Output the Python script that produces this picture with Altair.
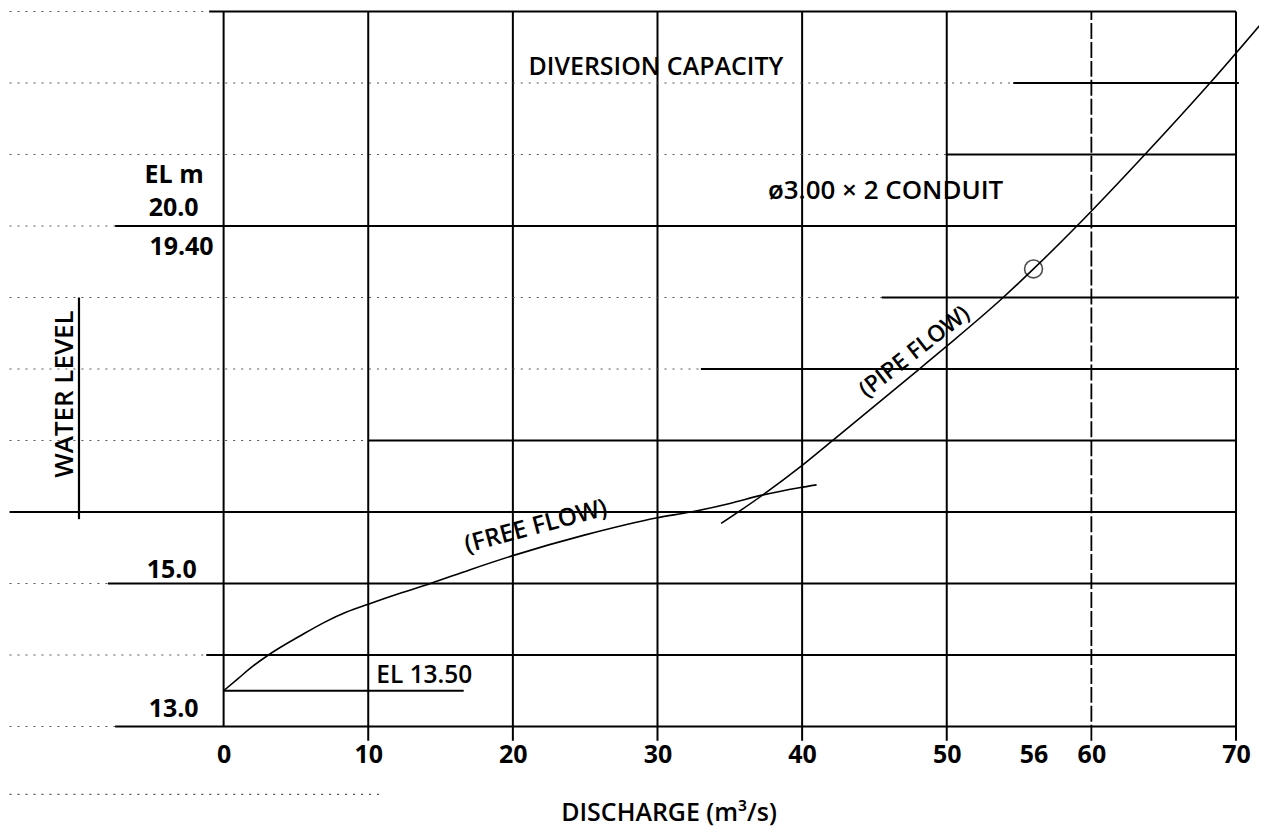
import altair as alt
import pandas as pd

# ---------------- data ----------------
# rating curve, free-flow branch (discharge m3/s, water level EL m)
free_q = [0, 1.0, 2.0, 3.1, 5.4, 7.0, 8.5, 10, 12.3, 14.3, 17.0, 20, 25, 30, 32.3, 35, 37.3, 39.8, 41.0]
free_h = [13.5, 13.67, 13.84, 14.0, 14.28, 14.46, 14.6, 14.71, 14.87, 15.0, 15.19, 15.39, 15.68, 15.92, 16.0, 16.12, 16.24, 16.34, 16.38]

# rating curve, pipe-flow branch
pipe_q = [34.4, 37.5, 39.8, 42.1, 48.1, 50.0, 53.9, 56.0, 59.0, 63.7, 68.2, 72.2]
pipe_h = [15.84, 16.27, 16.62, 17.0, 18.0, 18.32, 19.0, 19.4, 20.0, 21.0, 22.0, 22.94]

# design point
design_q = [56.0]
design_h = [19.40]

# x tick labels
x_ticks = [0, 10, 20, 30, 40, 50, 56, 60, 70]

# vertical grid lines
vgrid_x = [0, 10, 20, 30, 40, 50, 70]
vgrid_bottom = [13.0, 12.8, 12.8, 12.8, 12.8, 12.8, 12.8]
vgrid_dash_x = [60]
vgrid_dash_bottom = [12.8]

# horizontal grid lines: solid parts
hsolid_y = [23, 22, 21, 20, 19, 18, 17, 16, 15, 14, 13.5, 13]
hsolid_x0 = [-1.0, 54.6, 50.0, -7.5, 45.5, 33.0, 10.0, -14.8, -8.0, -1.2, 0.0, -7.5]
hsolid_x1 = [70.0, 70.2, 70.0, 70.0, 70.2, 70.2, 70.0, 70.0, 70.0, 70.0, 16.6, 70.0]

# horizontal grid lines: faint dotted parts (left of / before the solid parts)
hdot_y = [23, 22, 21, 20, 19, 18, 17, 15, 14, 13, 12.05]
hdot_x0 = [-14.8] * 11
hdot_x1 = [-1.0, 54.6, 50.0, -7.5, 45.5, 33.0, 10.0, -8.0, -1.2, -7.5, 11.0]

# bracket beside the y title
bracket_x = [-10.0]
bracket_y0 = [15.9]
bracket_y1 = [19.0]

# centred texts
c_text = ["DIVERSION CAPACITY", "ø3.00 × 2 CONDUIT", "(FREE FLOW)", "(PIPE FLOW)",
          "WATER LEVEL", "DISCHARGE (m³/s)"]
c_x = [29.89, 45.77, 21.6, 47.77, -10.98, 30.8]
c_y = [22.23, 20.49, 15.79, 18.24, 17.65, 11.79]
c_angle = [0, 0, 345, 322, 270, 0]
c_size = [25, 26, 24.5, 23, 26, 25]

# right-aligned y labels
r_text = ["EL m", "20.0", "19.40", "15.0", "13.0"]
r_x = [-1.38, -1.73, -0.69, -1.86, -1.73]
r_y = [20.71, 20.25, 19.70, 15.19, 13.25]

# left-aligned note
l_text = ["EL 13.50"]
l_x = [10.56]
l_y = [13.70]

# ---------------- chart ----------------
X_DOMAIN = [-14.77, 71.59]
Y_DOMAIN = [13.0, 23.04]
W, H = 1251, 719
FONT = "Open Sans"
FS = 25

xs = alt.Scale(domain=X_DOMAIN, nice=False, zero=False)
ys = alt.Scale(domain=Y_DOMAIN, nice=False, zero=False)

axis_x = alt.Axis(values=x_ticks, title=None, domain=False, ticks=False, grid=False,
                  labelFont=FONT, labelFontSize=FS, labelFontWeight=700, labelColor="black",
                  labelPadding=16, labelFlush=False, labelOverlap=False, format="d")


def X(field):
    return alt.X(field, scale=xs, axis=axis_x)


def Y(field):
    return alt.Y(field, scale=ys, axis=None)


vdf = pd.DataFrame({"x": vgrid_x, "y0": vgrid_bottom, "y1": [23.0] * len(vgrid_x)})
vlines = alt.Chart(vdf).mark_rule(color="black", strokeWidth=2).encode(
    x=X("x:Q"), y=Y("y0:Q"), y2="y1:Q",
)

vddf = pd.DataFrame({"x": vgrid_dash_x, "y0": vgrid_dash_bottom, "y1": [23.0]})
vdash = alt.Chart(vddf).mark_rule(color="black", strokeWidth=1.8, strokeDash=[16, 3]).encode(
    x=X("x:Q"), y=Y("y0:Q"), y2="y1:Q",
)

hsdf = pd.DataFrame({"y": hsolid_y, "x0": hsolid_x0, "x1": hsolid_x1})
hsolid = alt.Chart(hsdf).mark_rule(color="black", strokeWidth=1.8).encode(
    y=Y("y:Q"), x=X("x0:Q"), x2="x1:Q",
)

hddf = pd.DataFrame({"y": hdot_y, "x0": hdot_x0, "x1": hdot_x1})
hdot = alt.Chart(hddf).mark_rule(color="#555555", strokeWidth=1.2, strokeDash=[2, 6]).encode(
    y=Y("y:Q"), x=X("x0:Q"), x2="x1:Q",
)

bdf = pd.DataFrame({"x": bracket_x, "y0": bracket_y0, "y1": bracket_y1})
bracket = alt.Chart(bdf).mark_rule(color="black", strokeWidth=2.2).encode(
    x=X("x:Q"), y=Y("y0:Q"), y2="y1:Q",
)

curves = pd.concat([
    pd.DataFrame({"q": free_q, "h": free_h, "branch": "free"}),
    pd.DataFrame({"q": pipe_q, "h": pipe_h, "branch": "pipe"}),
], ignore_index=True)
lines = alt.Chart(curves).mark_line(color="black", strokeWidth=1.6, interpolate="monotone", clip=True).encode(
    x=X("q:Q"), y=Y("h:Q"), detail="branch:N",
)

pdf = pd.DataFrame({"q": design_q, "h": design_h})
point = alt.Chart(pdf).mark_point(shape="circle", size=320, filled=False, color="black", strokeWidth=1.6).encode(
    x=X("q:Q"), y=Y("h:Q"),
)

cdf = pd.DataFrame({"t": c_text, "x": c_x, "y": c_y, "a": c_angle, "s": c_size})
ctext = alt.Chart(cdf).mark_text(font=FONT, fontWeight=600, color="black",
                                 align="center", baseline="middle").encode(
    x=X("x:Q"), y=Y("y:Q"), angle=alt.Angle("a:Q", scale=None),
    size=alt.Size("s:Q", scale=None), text="t:N",
)

rdf = pd.DataFrame({"t": r_text, "x": r_x, "y": r_y})
rtext = alt.Chart(rdf).mark_text(font=FONT, fontSize=FS, fontWeight=700, color="black",
                                 align="right", baseline="middle").encode(
    x=X("x:Q"), y=Y("y:Q"), text="t:N",
)

ldf = pd.DataFrame({"t": l_text, "x": l_x, "y": l_y})
ltext = alt.Chart(ldf).mark_text(font=FONT, fontSize=24.5, fontWeight=600, color="black",
                                 align="left", baseline="middle").encode(
    x=X("x:Q"), y=Y("y:Q"), text="t:N",
)

chart = alt.layer(
    vlines, hdot, hsolid, vdash, bracket, lines, point, ctext, rtext, ltext
).properties(
    width=W, height=H, padding=0, background="white"
).configure_view(stroke=None)

chart.save("out.html", embed_options={"renderer": "svg", "actions": False})
